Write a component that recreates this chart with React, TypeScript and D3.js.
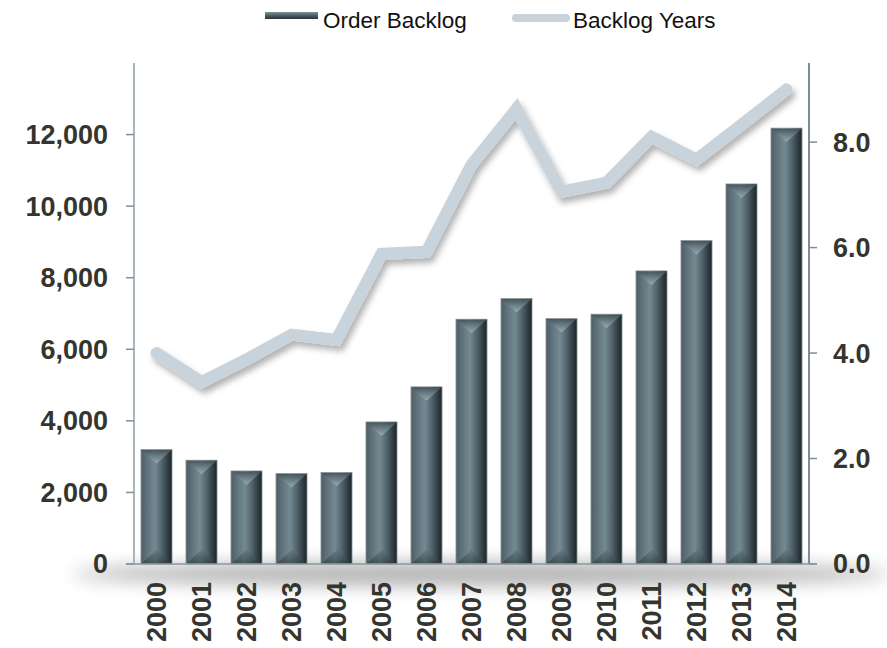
import React from "react";
import * as d3 from "d3";

const years = ["2000","2001","2002","2003","2004","2005","2006","2007","2008","2009","2010","2011","2012","2013","2014"];
const orderBacklog = [3200, 2900, 2600, 2530, 2560, 3970, 4950, 6840, 7420, 6860, 6980, 8190, 9040, 10620, 12180];
const backlogYears = [4.0, 3.45, 3.88, 4.35, 4.25, 5.88, 5.92, 7.57, 8.63, 7.06, 7.23, 8.1, 7.67, 8.33, 9.0];
const leftTicks = [0, 2000, 4000, 6000, 8000, 10000, 12000];
const rightTicks = [0, 2, 4, 6, 8];
const seriesNames = ["Order Backlog", "Backlog Years"];

const W = 887, H = 648;
const left = 134, right = 809, top = 63, bottom = 564;
const FONT = "'Liberation Sans', Arial, sans-serif";

export default function App() {
  const x = d3.scaleBand<string>().domain(years).range([left, right]).paddingInner(0.31).paddingOuter(0.155);
  const yL = d3.scaleLinear().domain([0, 14000]).range([bottom, top]);
  const yR = d3.scaleLinear().domain([0, 9.5]).range([bottom, top]);
  const bw = x.bandwidth();
  const line = d3.line<number>().x((_, i) => x(years[i])! + bw / 2).y(d => yR(d));
  const fmtL = d3.format(",");
  const fmtR = d3.format(".1f");

  return (
    <svg width={W} height={H} style={{ position: "absolute", left: 0, top: 0, background: "#fff" }} fontFamily={FONT}>
      <defs>
        <linearGradient id="barG" x1="0" x2="1" y1="0" y2="0">
          <stop offset="0" stopColor="#4e5d65" />
          <stop offset="0.2" stopColor="#60737c" />
          <stop offset="0.45" stopColor="#738a93" />
          <stop offset="0.7" stopColor="#4d5e66" />
          <stop offset="0.9" stopColor="#2a373d" />
          <stop offset="1" stopColor="#1b2529" />
        </linearGradient>
        <linearGradient id="topG" x1="0" x2="0" y1="0" y2="1">
          <stop offset="0" stopColor="#44535a" />
          <stop offset="1" stopColor="#9bb0b8" />
        </linearGradient>
        <linearGradient id="botG" x1="0" x2="0" y1="0" y2="1">
          <stop offset="0" stopColor="#5d717a" />
          <stop offset="1" stopColor="#2c383d" />
        </linearGradient>
        <linearGradient id="legG" x1="0" x2="0" y1="0" y2="1">
          <stop offset="0" stopColor="#7e929a" />
          <stop offset="0.5" stopColor="#4d5d65" />
          <stop offset="1" stopColor="#26323a" />
        </linearGradient>
        <filter id="blurS" x="-20%" y="-200%" width="140%" height="500%">
          <feGaussianBlur stdDeviation="9" />
        </filter>
        <filter id="lineShadow" x="-10%" y="-20%" width="120%" height="140%">
          <feDropShadow dx="3" dy="5" stdDeviation="3" floodColor="#000" floodOpacity="0.3" />
        </filter>
      </defs>

      {/* floor shadow */}
      <ellipse cx={(left + right) / 2 + 10} cy={bottom + 10} rx={410} ry={12} fill="#000" opacity={0.3} filter="url(#blurS)" />

      {/* legend */}
      <rect x={265} y={12} width={53} height={7} fill="url(#legG)" />
      <text x={323} y={28} fontSize={22.5} fill="#111">{seriesNames[0]}</text>
      <line x1={516} x2={566} y1={18} y2={18} stroke="#c8d3dc" strokeWidth={8} strokeLinecap="round" />
      <text x={573} y={28} fontSize={22.5} fill="#111">{seriesNames[1]}</text>

      {/* bars */}
      {orderBacklog.map((v, i) => {
        const bx = x(years[i])!;
        const by = yL(v);
        const h = bottom - by;
        const d = Math.min(bw * 0.45, 14);
        return (
          <g key={years[i]}>
            <rect x={bx} y={by} width={bw} height={h} fill="url(#barG)" stroke="#8c979c" strokeWidth={0.8} />
            <path d={`M${bx + 0.5},${by + 0.5} L${bx + bw - 0.5},${by + 0.5} L${bx + bw / 2},${by + d} Z`} fill="url(#topG)" opacity={0.9} />
            <path d={`M${bx + 0.5},${bottom - 0.5} L${bx + bw - 0.5},${bottom - 0.5} L${bx + bw / 2},${bottom - d} Z`} fill="url(#botG)" opacity={0.6} />
          </g>
        );
      })}

      {/* line */}
      <path d={line(backlogYears)!} fill="none" stroke="#c8d3dc" strokeWidth={12} strokeLinejoin="miter" strokeLinecap="round" filter="url(#lineShadow)" />

      {/* left axis */}
      <line x1={left} x2={left} y1={top} y2={bottom} stroke="#a9b6bd" strokeWidth={2} />
      {leftTicks.map(t => (
        <g key={"l" + t}>
          <line x1={left - 8} x2={left} y1={yL(t)} y2={yL(t)} stroke="#7f8f97" strokeWidth={1.5} />
          <text x={108} y={yL(t)} dy="0.35em" textAnchor="end" fontSize={27} fontWeight="bold" fill="#35352f">{fmtL(t)}</text>
        </g>
      ))}

      {/* right axis */}
      <line x1={right} x2={right} y1={top} y2={bottom} stroke="#7d8d96" strokeWidth={2} />
      {rightTicks.map(t => (
        <g key={"r" + t}>
          <line x1={right} x2={right + 8} y1={yR(t)} y2={yR(t)} stroke="#7d8d96" strokeWidth={1.5} />
          <text x={833} y={yR(t)} dy="0.35em" textAnchor="start" fontSize={27} fontWeight="bold" fill="#35352f">{fmtR(t)}</text>
        </g>
      ))}

      {/* baseline */}
      <line x1={left - 8} x2={right + 8} y1={bottom} y2={bottom} stroke="#8a989f" strokeWidth={1.5} />

      {/* x labels */}
      {years.map(yv => (
        <text key={"x" + yv} transform={`translate(${x(yv)! + bw / 2},582) rotate(-90)`} dy="0.35em" textAnchor="end" fontSize={27} fontWeight="bold" fill="#35352f">{yv}</text>
      ))}
    </svg>
  );
}
